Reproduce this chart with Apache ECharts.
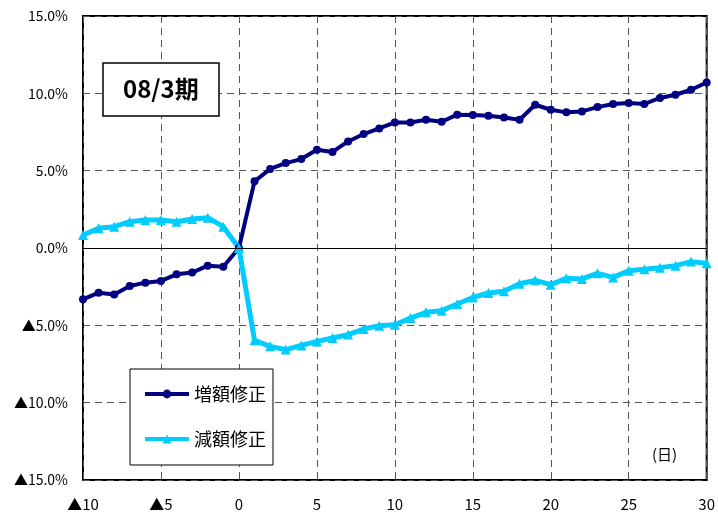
<!DOCTYPE html>
<html>
<head>
<meta charset="utf-8">
<script src="https://cdn.jsdelivr.net/npm/echarts@6/dist/echarts.min.js"></script>
<style>
  html, body { margin: 0; padding: 0; background: #fff; }
  #chart { width: 718px; height: 514px; }
</style>
</head>
<body>
<div id="chart"></div>
<script>
// days relative to the revision date
const days = [-10, -9, -8, -7, -6, -5, -4, -3, -2, -1, 0,
  1, 2, 3, 4, 5, 6, 7, 8, 9, 10, 11, 12, 13, 14, 15, 16, 17, 18, 19, 20,
  21, 22, 23, 24, 25, 26, 27, 28, 29, 30]

// 増額修正 (%)
const upValues = [-3.32, -2.89, -3.00, -2.46, -2.24, -2.13, -1.70, -1.59, -1.14, -1.21, 0,
  4.31, 5.11, 5.49, 5.75, 6.35, 6.21, 6.89, 7.37, 7.73, 8.12,
  8.12, 8.29, 8.16, 8.62, 8.60, 8.55, 8.44, 8.29, 9.26, 8.94,
  8.77, 8.83, 9.11, 9.31, 9.37, 9.31, 9.70, 9.91, 10.23, 10.70]

// 減額修正 (%)
const downValues = [0.84, 1.27, 1.38, 1.70, 1.81, 1.81, 1.70, 1.87, 1.96, 1.38, 0,
  -5.97, -6.36, -6.57, -6.30, -6.04, -5.82, -5.60, -5.24, -5.02, -4.96,
  -4.53, -4.16, -4.05, -3.62, -3.20, -2.91, -2.80, -2.31, -2.09, -2.37,
  -1.96, -2.00, -1.64, -1.90, -1.47, -1.38, -1.27, -1.14, -0.88, -0.99]

const xTickLabels = ['▲10', '▲5', '0', '5', '10', '15', '20', '25', '30']
const yTickLabels = ['▲15.0%', '▲10.0%', '▲5.0%', '0.0%', '5.0%', '10.0%', '15.0%']

const seriesNames = ['増額修正', '減額修正']
const titleText = '08/3期'
const unitText = '(日)'

const font = '"Noto Sans CJK JP", sans-serif'
const gridLine = { show: true, lineStyle: { color: '#555', width: 1, type: [7, 5] } }

const chart = echarts.init(document.getElementById('chart'), null, { renderer: 'canvas' })

chart.setOption({
  animation: false,
  backgroundColor: '#fff',
  title: {
    text: titleText,
    left: 103,
    top: 63,
    padding: [14, 20, 15, 20],
    borderColor: '#000',
    borderWidth: 1.5,
    backgroundColor: '#fff',
    textStyle: { fontFamily: font, fontSize: 24, fontWeight: 'bold', color: '#000' }
  },
  legend: {
    data: [
      { name: seriesNames[0], lineStyle: { width: 4 } },
      { name: seriesNames[1], lineStyle: { width: 4 } }
    ],
    orient: 'vertical',
    left: 130,
    top: 369,
    padding: [16, 7, 17, 13],
    itemGap: 27,
    itemWidth: 44,
    itemHeight: 11,
    backgroundColor: '#fff',
    borderColor: '#000',
    borderWidth: 1,
    textStyle: { fontFamily: font, fontSize: 18, color: '#000' }
  },
  grid: {
    left: 83,
    right: 10,
    top: 16,
    bottom: 34,
    show: true,
    borderColor: '#000',
    borderWidth: 2,
    backgroundColor: '#fff'
  },
  xAxis: {
    type: 'value',
    min: -10,
    max: 30,
    interval: 5,
    axisLine: { show: false },
    axisTick: { show: false },
    splitLine: gridLine,
    axisLabel: {
      margin: 17,
      fontFamily: font,
      fontSize: 15,
      color: '#000',
      formatter: v => xTickLabels[Math.round((v + 10) / 5)]
    }
  },
  yAxis: {
    type: 'value',
    min: -15,
    max: 15,
    interval: 5,
    axisLine: { show: false },
    axisTick: { show: false },
    splitLine: gridLine,
    axisLabel: {
      margin: 15,
      fontFamily: font,
      fontSize: 14,
      color: '#000',
      formatter: v => yTickLabels[Math.round((v + 15) / 5)]
    }
  },
  graphic: [{
    type: 'text',
    left: 652,
    top: 447,
    style: { text: unitText, font: '15px "Noto Sans CJK JP", sans-serif', fill: '#000' }
  }],
  series: [{
    name: seriesNames[0],
    type: 'line',
    data: days.map((d, i) => [d, upValues[i]]),
    symbol: 'circle',
    symbolSize: 8,
    color: '#000080',
    lineStyle: { width: 4, color: '#000080' },
    itemStyle: { color: '#000080' },
    markLine: {
      silent: true,
      symbol: 'none',
      label: { show: false },
      lineStyle: { color: '#000', width: 1, type: 'solid' },
      data: [{ yAxis: 0 }]
    }
  }, {
    name: seriesNames[1],
    type: 'line',
    data: days.map((d, i) => [d, downValues[i]]),
    symbol: 'triangle',
    symbolSize: 10,
    color: '#00ccff',
    lineStyle: { width: 5, color: '#00ccff' },
    itemStyle: { color: '#00ccff' }
  }]
})
</script>
</body>
</html>
